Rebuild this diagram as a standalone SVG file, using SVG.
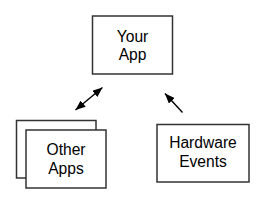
<svg xmlns="http://www.w3.org/2000/svg" width="269" height="208" viewBox="0 0 269 208">
<style>
.box{fill:#fff;stroke:#333;stroke-width:1.5}
.lbl{font-family:"Liberation Sans",Arial,sans-serif;font-size:15.6px;fill:#000;text-anchor:middle}
.con{stroke:#000;stroke-width:1.4;fill:none}
</style>
<defs>
<marker id="ah" viewBox="0 0 10 8" refX="10" refY="4" markerWidth="10" markerHeight="8" markerUnits="userSpaceOnUse" orient="auto-start-reverse">
<path d="M0,0 L10,4 L0,8 z" fill="#000"/>
</marker>
</defs>
<rect width="269" height="208" fill="#fff"/>
<g id="your-app">
<rect class="box" x="92.5" y="16" width="80" height="58"/>
<text class="lbl" x="132.5" y="41.7">Your</text>
<text class="lbl" x="132.5" y="60">App</text>
</g>
<g id="other-apps">
<rect class="box" x="16.5" y="120.5" width="79.5" height="57.5"/>
<rect class="box" x="26" y="130" width="80" height="58"/>
<text class="lbl" x="66" y="155">Other</text>
<text class="lbl" x="66" y="173.5">Apps</text>
</g>
<g id="hardware-events">
<rect class="box" x="157" y="124.5" width="92" height="57.5"/>
<text class="lbl" x="203" y="148">Hardware</text>
<text class="lbl" x="203" y="166.5">Events</text>
</g>
<g id="connectors">
<line class="con" x1="75.5" y1="110" x2="102.5" y2="87.5" marker-start="url(#ah)" marker-end="url(#ah)"/>
<line class="con" x1="182.5" y1="112.5" x2="165" y2="93.5" marker-end="url(#ah)"/>
</g>
</svg>
